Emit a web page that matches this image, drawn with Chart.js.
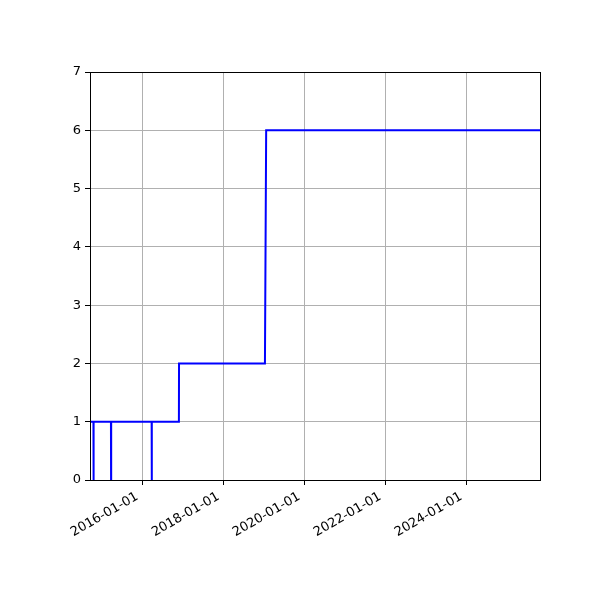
<!DOCTYPE html>
<html>
<head>
<meta charset="UTF-8">
<title>Step chart</title>
<script src="https://cdn.jsdelivr.net/npm/chart.js"></script>
<style>
    html, body { margin: 0; padding: 0; background: #fff; }
    #wrap { width: 600px; height: 600px; }
</style>
</head>
<body>
<div id="wrap"><canvas id="chart" width="600" height="600"></canvas></div>
<script>
    // values
    const dates = ['2014-09-16', '2014-10-17', '2014-10-18', '2014-10-19',
                   '2015-03-24', '2015-03-25', '2015-03-26',
                   '2016-03-25', '2016-03-26', '2016-03-27',
                   '2016-11-26', '2016-11-27', '2019-01-11', '2019-01-22', '2025-10-27'];
    const values = [1, 1, 0, 1, 1, 0, 1, 1, 0, 1, 1, 2, 2, 6, 6];
    const xTickLabels = ['2016-01-01', '2018-01-01', '2020-01-01', '2022-01-01', '2024-01-01'];
    const yTicks = [0, 1, 2, 3, 4, 5, 6, 7];

    function toMs(s) {
        const p = s.split('-').map(Number);
        return Date.UTC(p[0], p[1] - 1, p[2]);
    }
    function fmt(ms) {
        const d = new Date(ms);
        const m = String(d.getUTCMonth() + 1).padStart(2, '0');
        const day = String(d.getUTCDate()).padStart(2, '0');
        return d.getUTCFullYear() + '-' + m + '-' + day;
    }

    const points = dates.map((d, i) => ({ x: toMs(d), y: values[i] }));

    // matplotlib-like box round the plot area
    const frame = {
        id: 'frame',
        afterDraw(chart) {
            const a = chart.chartArea, ctx = chart.ctx;
            ctx.save();
            ctx.strokeStyle = '#000';
            ctx.lineWidth = 1;
            ctx.strokeRect(Math.round(a.left) + 0.5, Math.round(a.top) + 0.5,
                Math.round(a.right - a.left), Math.round(a.bottom - a.top));
            ctx.restore();
        }
    };

    const font = { family: 'DejaVu Sans', size: 13 };

    new Chart(document.getElementById('chart'), {
        type: 'line',
        data: {
            datasets: [{
                data: points,
                borderColor: '#0000ff',
                borderWidth: 2,
                pointRadius: 0,
                tension: 0,
                fill: false
            }]
        },
        options: {
            responsive: false,
            animation: false,
            layout: { padding: { top: 72, right: 60, left: 0, bottom: 0 } },
            plugins: { legend: { display: false }, tooltip: { enabled: false } },
            scales: {
                x: {
                    type: 'linear',
                    min: toMs(dates[0]),
                    max: toMs(dates[dates.length - 1]),
                    afterBuildTicks: s => { s.ticks = xTickLabels.map(t => ({ value: toMs(t) })); },
                    afterFit: s => { s.height = 120; },
                    ticks: {
                        callback: v => fmt(v),
                        color: '#000', font: font,
                        minRotation: 30, maxRotation: 30,
                        padding: 4, labelOffset: -5, autoSkip: false
                    },
                    grid: { color: '#b0b0b0', lineWidth: 1, tickColor: '#000', tickLength: 5, tickWidth: 1 },
                    border: { color: '#000', width: 1 }
                },
                y: {
                    min: 0, max: 7,
                    afterBuildTicks: s => { s.ticks = yTicks.map(v => ({ value: v })); },
                    afterFit: s => { s.width = 90; },
                    ticks: { color: '#000', font: font, padding: 4 },
                    grid: { color: '#b0b0b0', lineWidth: 1, tickColor: '#000', tickLength: 5, tickWidth: 1 },
                    border: { color: '#000', width: 1 }
                }
            }
        },
        plugins: [frame]
    });
</script>
</body>
</html>
